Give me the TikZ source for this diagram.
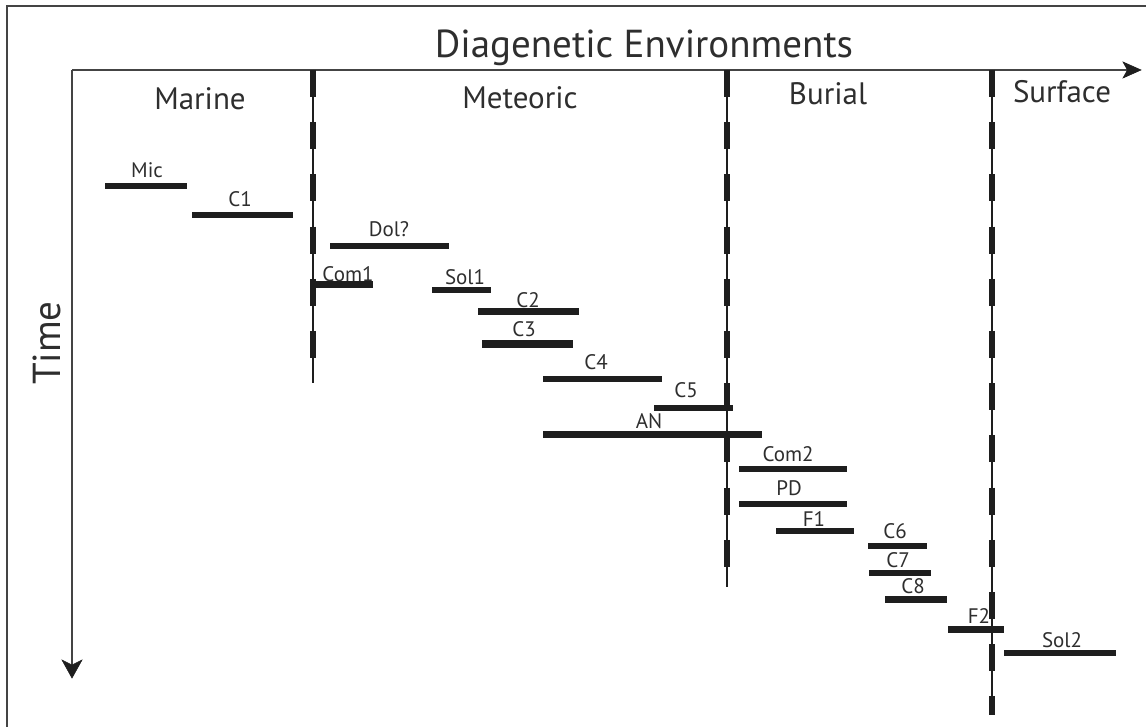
\documentclass[tikz,border=0pt]{standalone}
\usepackage{fontspec}
\setmainfont{PT Sans}
\usetikzlibrary{arrows.meta}
\definecolor{ink}{HTML}{1E1E1E}
\definecolor{txt}{HTML}{2E2E2E}
\definecolor{axiscol}{HTML}{444444}
\begin{document}
\begin{tikzpicture}[x=1pt,y=-1pt,
  frame/.style={draw=axiscol, line width=2pt},
  axisline/.style={draw=axiscol, line width=2pt},
  tipfill/.style={fill=ink, draw=ink, line width=0.6pt, line join=miter},
  divthin/.style={draw=ink, line width=1.4pt},
  divdash/.style={draw=ink, line width=5.5pt, dash pattern=on 27pt off 25.2pt},
  phase/.style={draw=ink, line width=5.5pt},
  phasethick/.style={draw=ink, line width=7pt},
  lab/.style={text=txt, anchor=base, inner sep=0pt, font=\fontsize{21}{21}\selectfont},
  envlab/.style={text=txt, anchor=base, inner sep=0pt, font=\fontsize{31}{31}\selectfont},
  titlelab/.style={text=txt, anchor=base, inner sep=0pt, font=\fontsize{39}{39}\selectfont}
]
\useasboundingbox (0,0) rectangle (1146,727);
\draw[frame] (7,6) rectangle (1170,760);

% axes
\coordinate (origin) at (72,70);
\coordinate (xend) at (1141,70);
\coordinate (yend) at (72,678);
\draw[axisline] (origin) -- ([xshift=-10pt]xend);
\draw[axisline] (origin) -- ([yshift=10pt]yend);
\filldraw[tipfill] (xend) -- ++(-18,-8) -- ++(4.5,8) -- ++(-4.5,8) -- cycle;
\filldraw[tipfill] (yend) -- ++(-10,-18) -- ++(10,5) -- ++(10,-5) -- cycle;

% titles
\node[titlelab] (title) at (644,58) {Diagenetic Environments};
\node[titlelab, rotate=90, anchor=base] (time) at (60,343) {Time};

% environment labels
\node[envlab] (marine) at (200,110) {Marine};
\node[envlab] (meteoric) at (520,109) {Meteoric};
\node[envlab] (burial) at (828,105) {Burial};
\node[envlab] (surface) at (1062,103) {Surface};

% dividers
\foreach \xx/\yy in {313/383, 727/587, 992/715} {
  \draw[divthin] (\xx,70) -- (\xx,\yy);
  \draw[divdash] (\xx,70) -- (\xx,\yy);
}

% phases
\draw[phase] (105,186) -- (187,186);
\node[lab] (mic) at (147,178) {Mic};
\draw[phase] (192,215) -- (293,215);
\node[lab] (c1) at (240,207) {C1};
\draw[phase] (330,246) -- (449,246);
\node[lab] (dol) at (389,237) {Dol?};
\draw[phasethick] (312,285) -- (373,285);
\node[lab] (com1) at (348,282) {Com1};
\draw[phase] (432,290) -- (491,290);
\node[lab] (sol1) at (465,285) {Sol1};
\draw[phasethick] (478,312) -- (579,312);
\node[lab] (c2) at (528,308) {C2};
\draw[phasethick] (482,344) -- (573,344);
\node[lab] (c3) at (524,337) {C3};
\draw[phase] (543,379) -- (662,379);
\node[lab] (c4) at (596,370) {C4};
\draw[phase] (654,408) -- (733,408);
\node[lab] (c5) at (686,397) {C5};
\draw[phasethick] (543,434) -- (762,434);
\node[lab] (an) at (649,428) {AN};
\draw[phase] (739,469) -- (847,469);
\node[lab] (com2) at (788,461) {Com2};
\draw[phase] (739,504) -- (847,504);
\node[lab] (pd) at (789,495) {PD};
\draw[phase] (776,531) -- (854,531);
\node[lab] (f1) at (814,526) {F1};
\draw[phase] (868,546) -- (927,546);
\node[lab] (c6) at (895,538) {C6};
\draw[phase] (869,573) -- (931,573);
\node[lab] (c7) at (898,567) {C7};
\draw[phasethick] (885,599) -- (947,599);
\node[lab] (c8) at (913,593) {C8};
\draw[phasethick] (948,629) -- (1004,629);
\node[lab] (f2) at (979,623) {F2};
\draw[phase] (1004,653) -- (1116,653);
\node[lab] (sol2) at (1062,647) {Sol2};
\end{tikzpicture}
\end{document}
